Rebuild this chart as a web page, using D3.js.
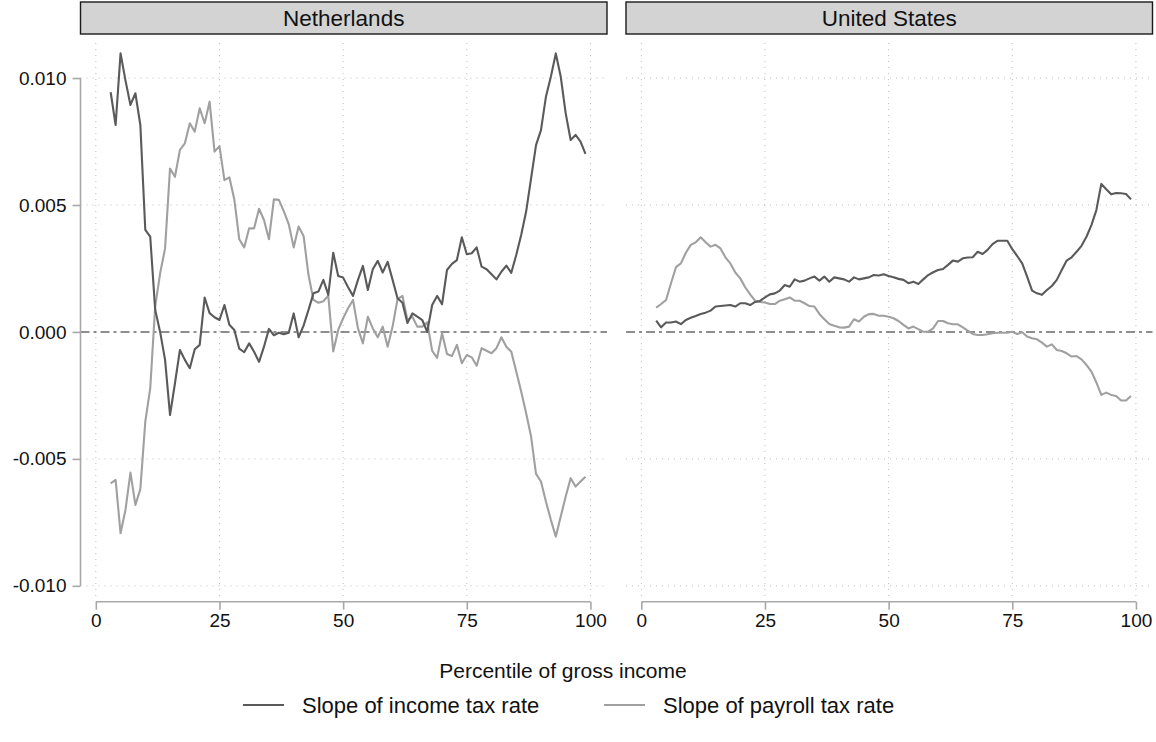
<!DOCTYPE html>
<html>
<head>
<meta charset="utf-8">
<script src="https://cdn.jsdelivr.net/npm/d3@7"></script>
<style>
  html, body { margin: 0; padding: 0; background: #fff; }
  svg { display: block; font-family: "Liberation Sans", Arial, Helvetica, sans-serif; }
</style>
</head>
<body>
<svg id="chart" width="1156" height="742"></svg>
<script>
// ---------------- data ----------------
const panels = ["Netherlands", "United States"];
const seriesNames = ["Slope of income tax rate", "Slope of payroll tax rate"];
const percentiles = [3,4,5,6,7,8,9,10,11,12,13,14,15,16,17,18,19,20,21,22,23,24,25,26,27,28,29,30,31,32,33,34,35,36,37,38,39,40,41,42,43,44,45,46,47,48,49,50,51,52,53,54,55,56,57,58,59,60,61,62,63,64,65,66,67,68,69,70,71,72,73,74,75,76,77,78,79,80,81,82,83,84,85,86,87,88,89,90,91,92,93,94,95,96,97,98,99];

// values in units of 0.001
const nlIncome = [9.44,8.15,10.97,9.9,8.94,9.40,8.15,4.02,3.75,0.87,0.0,-1.10,-3.27,-2.02,-0.71,-1.10,-1.43,-0.68,-0.51,1.35,0.74,0.58,0.47,1.06,0.28,0.08,-0.66,-0.80,-0.45,-0.78,-1.18,-0.58,0.12,-0.13,-0.03,-0.09,-0.03,0.73,-0.21,0.25,0.87,1.52,1.59,2.05,1.46,3.12,2.20,2.14,1.76,1.42,2.05,2.60,1.65,2.47,2.80,2.34,2.76,2.05,1.33,1.15,0.35,0.73,0.6,0.47,0.0,1.06,1.42,1.09,2.44,2.68,2.83,3.73,3.06,3.1,3.33,2.57,2.47,2.27,2.07,2.37,2.61,2.33,3.03,3.82,4.74,6.05,7.36,7.95,9.26,10.05,10.97,10.05,8.61,7.56,7.76,7.5,7.01];
const nlPayroll = [-5.96,-5.83,-7.93,-7.0,-5.54,-6.81,-6.19,-3.53,-2.22,1.0,2.31,3.29,6.44,6.11,7.17,7.43,8.22,7.89,8.81,8.22,9.07,7.10,7.32,5.98,6.09,5.22,3.65,3.33,4.08,4.08,4.85,4.41,3.65,5.22,5.2,4.76,4.25,3.33,4.15,3.78,2.24,1.26,1.15,1.21,1.43,-0.77,0.08,0.54,0.93,1.26,0.14,-0.45,0.6,0.14,-0.21,0.21,-0.58,0.21,1.29,1.42,0.47,0.6,0.21,0.21,0.38,-0.74,-1.02,-0.05,-0.87,-0.95,-0.51,-1.23,-0.91,-1.0,-1.33,-0.64,-0.74,-0.84,-0.64,-0.21,-0.58,-0.78,-1.56,-2.35,-3.2,-4.12,-5.59,-5.89,-6.68,-7.40,-8.06,-7.27,-6.48,-5.76,-6.09,-5.89,-5.70];
const usIncome = [0.45,0.18,0.37,0.37,0.41,0.31,0.47,0.56,0.63,0.71,0.76,0.84,1.0,1.02,1.04,1.06,1.0,1.13,1.13,1.06,1.18,1.22,1.36,1.48,1.52,1.63,1.85,1.78,2.07,1.98,2.02,2.11,2.18,2.02,2.18,1.98,2.15,2.11,2.07,1.98,2.15,2.07,2.11,2.15,2.24,2.22,2.27,2.2,2.15,2.09,2.05,1.92,1.98,1.89,2.07,2.24,2.35,2.44,2.48,2.64,2.81,2.77,2.90,2.93,2.94,3.16,3.07,3.23,3.46,3.59,3.59,3.59,3.26,2.99,2.70,2.18,1.63,1.52,1.46,1.65,1.81,2.05,2.44,2.81,2.94,3.16,3.39,3.75,4.21,4.80,5.83,5.62,5.42,5.47,5.46,5.43,5.22];
const usPayroll = [0.96,1.10,1.26,1.92,2.55,2.70,3.12,3.43,3.53,3.73,3.53,3.36,3.43,3.29,2.94,2.70,2.34,2.11,1.76,1.48,1.23,1.18,1.16,1.10,1.10,1.23,1.29,1.36,1.23,1.23,1.13,1.02,1.0,0.71,0.50,0.31,0.24,0.18,0.17,0.21,0.50,0.41,0.6,0.70,0.71,0.64,0.64,0.6,0.54,0.43,0.28,0.14,0.21,0.11,0.01,0.01,0.14,0.43,0.43,0.34,0.30,0.30,0.18,0.05,-0.08,-0.12,-0.12,-0.09,-0.05,-0.03,-0.03,-0.03,0.01,-0.08,-0.01,-0.18,-0.25,-0.29,-0.42,-0.58,-0.49,-0.71,-0.75,-0.84,-0.97,-0.95,-1.08,-1.30,-1.56,-1.99,-2.48,-2.39,-2.48,-2.52,-2.70,-2.70,-2.52];

const xTicks = [0, 25, 50, 75, 100];
const yTicks = [-0.010, -0.005, 0.000, 0.005, 0.010];
const yTickLabels = ["-0.010", "-0.005", "0.000", "0.005", "0.010"];
const unit = 0.001;

// ---------------- layout ----------------
const svg = d3.select("#chart");
const panelLefts = [80.5, 626];
const panelW = 526.5;
const panelTop = 43, panelH = 553;
const stripTop = 2, stripH = 32;
const darkCol = "#5a5a5a", lightCol = "#a0a0a0";
const fontTick = 19;

const x = d3.scaleLinear().domain([-3.1, 103.35]).range([0, panelW]);
const y = d3.scaleLinear().domain([-0.0104, 0.01138]).range([panelH, 0]);

const panelData = [
  { name: panels[0], income: nlIncome, payroll: nlPayroll },
  { name: panels[1], income: usIncome, payroll: usPayroll }
];

const line = d3.line()
  .x((d, i) => x(percentiles[i]))
  .y(d => y(d * unit));

panelData.forEach((pd, pi) => {
  const left = panelLefts[pi];

  // strip
  svg.append("rect")
    .attr("x", left).attr("y", stripTop)
    .attr("width", panelW).attr("height", stripH)
    .attr("fill", "#d3d3d3").attr("stroke", "#1a1a1a").attr("stroke-width", 1.4);
  svg.append("text")
    .attr("x", left + panelW / 2).attr("y", stripTop + stripH / 2 + 8)
    .attr("text-anchor", "middle").attr("font-size", 22.5).attr("fill", "#111")
    .text(pd.name);

  const g = svg.append("g").attr("transform", `translate(${left},${panelTop})`);

  // grid
  g.selectAll(".vg").data(xTicks).enter().append("line")
    .attr("x1", d => x(d)).attr("x2", d => x(d))
    .attr("y1", 0).attr("y2", panelH)
    .attr("stroke", "#bdbdbd").attr("stroke-width", 1).attr("stroke-dasharray", "1,5");
  g.selectAll(".hg").data(yTicks.filter(v => v !== 0)).enter().append("line")
    .attr("x1", 0).attr("x2", panelW)
    .attr("y1", d => y(d)).attr("y2", d => y(d))
    .attr("stroke", "#bdbdbd").attr("stroke-width", 1).attr("stroke-dasharray", "1,5");

  // zero reference line
  g.append("line")
    .attr("x1", 0).attr("x2", panelW)
    .attr("y1", y(0)).attr("y2", y(0))
    .attr("stroke", "#6a6a6a").attr("stroke-width", 1.6)
    .attr("stroke-dasharray", "9,4,3,4");

  // series lines
  g.append("path").datum(pd.payroll)
    .attr("d", line).attr("fill", "none")
    .attr("stroke", lightCol).attr("stroke-width", 2.1).attr("stroke-linejoin", "round");
  g.append("path").datum(pd.income)
    .attr("d", line).attr("fill", "none")
    .attr("stroke", darkCol).attr("stroke-width", 2.1).attr("stroke-linejoin", "round");

  // x axis
  const xa = g.append("g").attr("transform", `translate(0,${panelH + 5.7})`)
    .call(d3.axisBottom(x).tickValues(xTicks).tickSize(8).tickSizeOuter(0).tickPadding(4));
  xa.select(".domain").attr("d", `M${x(0)},0H${x(100)}`)
    .attr("stroke", "#a8a8a8").attr("stroke-width", 1.6);
  xa.selectAll(".tick line").attr("stroke", "#a8a8a8").attr("stroke-width", 1.6);
  xa.selectAll(".tick text").attr("font-size", fontTick).attr("fill", "#111")
    .attr("font-family", "Liberation Sans, Arial, sans-serif");

  // y axis (left panel only)
  if (pi === 0) {
    const ya = g.append("g")
      .call(d3.axisLeft(y).tickValues(yTicks).tickSize(8).tickSizeOuter(0).tickPadding(6)
        .tickFormat((d, i) => yTickLabels[i]));
    ya.select(".domain").attr("d", `M0,${y(0.010)}V${y(-0.010)}`)
      .attr("stroke", "#a8a8a8").attr("stroke-width", 1.6);
    ya.selectAll(".tick line").attr("stroke", "#a8a8a8").attr("stroke-width", 1.6);
    ya.selectAll(".tick text").attr("font-size", fontTick).attr("fill", "#111")
      .attr("font-family", "Liberation Sans, Arial, sans-serif");
  }
});

// axis title
svg.append("text")
  .attr("x", 563).attr("y", 678)
  .attr("text-anchor", "middle").attr("font-size", 21).attr("fill", "#111")
  .text("Percentile of gross income");

// legend
const legendItems = [
  { name: seriesNames[0], color: darkCol, x0: 243 },
  { name: seriesNames[1], color: lightCol, x0: 604 }
];
const lg = svg.append("g");
legendItems.forEach(it => {
  lg.append("line").attr("x1", it.x0).attr("x2", it.x0 + 41)
    .attr("y1", 705).attr("y2", 705)
    .attr("stroke", it.color).attr("stroke-width", 2.1);
  lg.append("text").attr("x", it.x0 + 59).attr("y", 713)
    .attr("font-size", 22).attr("fill", "#111").text(it.name);
});
</script>
</body>
</html>
